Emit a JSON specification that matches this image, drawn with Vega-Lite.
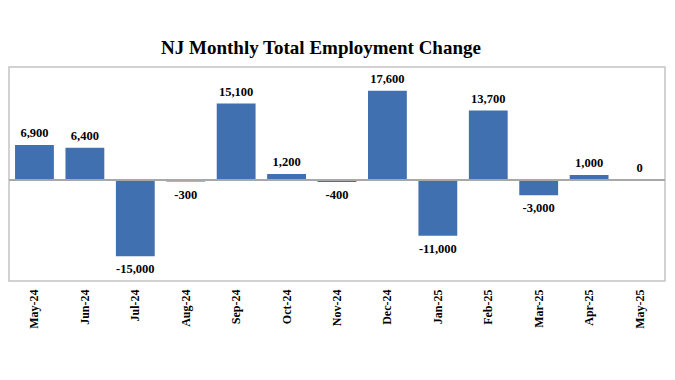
{
  "$schema": "https://vega.github.io/schema/vega-lite/v6.json",
  "autosize": "none",
  "width": 656,
  "height": 214,
  "padding": {"left": 9, "top": 67, "right": 10, "bottom": 99},
  "background": "white",
  "config": {
    "view": {"stroke": "#c4c4c4", "strokeWidth": 1.5},
    "font": "Liberation Serif",
    "locale": {
      "number": {
        "decimal": ".",
        "thousands": ",",
        "grouping": [3],
        "currency": ["$", ""],
        "minus": "-"
      }
    }
  },
  "title": {
    "text": "NJ Monthly Total Employment Change",
    "font": "Liberation Serif",
    "fontSize": 19,
    "fontWeight": "bold",
    "color": "#000000",
    "anchor": "middle",
    "frame": "group",
    "offset": 9,
    "dx": -16
  },
  "data": {
    "values": [
      {"month": "May-24", "change": 6900},
      {"month": "Jun-24", "change": 6400},
      {"month": "Jul-24", "change": -15000},
      {"month": "Aug-24", "change": -300},
      {"month": "Sep-24", "change": 15100},
      {"month": "Oct-24", "change": 1200},
      {"month": "Nov-24", "change": -400},
      {"month": "Dec-24", "change": 17600},
      {"month": "Jan-25", "change": -11000},
      {"month": "Feb-25", "change": 13700},
      {"month": "Mar-25", "change": -3000},
      {"month": "Apr-25", "change": 1000},
      {"month": "May-25", "change": 0}
    ]
  },
  "encoding": {
    "x": {
      "field": "month",
      "type": "nominal",
      "sort": null,
      "scale": {"paddingInner": 0.23, "paddingOuter": 0.12},
      "axis": {
        "title": null,
        "labelAngle": -90,
        "labelAlign": "right",
        "labelBaseline": "middle",
        "labelFont": "Liberation Serif",
        "labelFontSize": 12,
        "labelFontWeight": "bold",
        "labelColor": "#000000",
        "labelPadding": 8,
        "ticks": false,
        "domain": false
      }
    },
    "y": {
      "field": "change",
      "type": "quantitative",
      "scale": {"domain": [-19900, 22300], "nice": false, "zero": false},
      "axis": null
    }
  },
  "layer": [
    {
      "mark": {"type": "bar", "color": "#4170b0"}
    },
    {
      "mark": {"type": "rule", "color": "#a8a8a8", "strokeWidth": 1.2},
      "encoding": {"x": null, "y": {"datum": 0, "type": "quantitative"}}
    },
    {
      "transform": [{"filter": "datum.change >= 0"}],
      "mark": {"type": "text", "font": "Liberation Serif", "fontSize": 12.5, "fontWeight": "bold", "color": "#000000", "baseline": "middle", "dy": -12},
      "encoding": {"text": {"field": "change", "type": "quantitative", "format": ","}}
    },
    {
      "transform": [{"filter": "datum.change < 0"}],
      "mark": {"type": "text", "font": "Liberation Serif", "fontSize": 12.5, "fontWeight": "bold", "color": "#000000", "baseline": "middle", "dy": 13},
      "encoding": {"text": {"field": "change", "type": "quantitative", "format": ","}}
    }
  ]
}
